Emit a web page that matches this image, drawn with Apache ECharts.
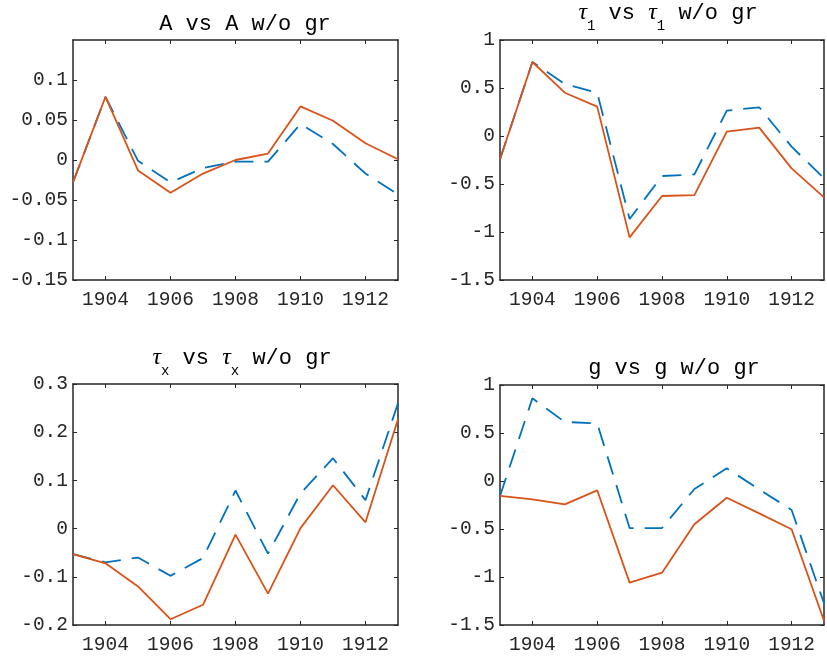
<!DOCTYPE html>
<html><head><meta charset="utf-8">
<script src="https://cdn.jsdelivr.net/npm/echarts@6/dist/echarts.min.js"></script>
<style>html,body{margin:0;padding:0;background:#fff}#c{width:827px;height:661px}</style>
</head><body><div id="c"></div>
<script>
// ---- data ----
const years = [1903,1904,1905,1906,1907,1908,1909,1910,1911,1912,1913];
const xTicks = [1904,1906,1908,1910,1912];

const A      = [-0.028,0.079,-0.001,-0.028,-0.010,-0.002,-0.002,0.045,0.020,-0.017,-0.043];
const A_wo   = [-0.028,0.079,-0.013,-0.041,-0.017,0.000,0.008,0.067,0.049,0.021,0.001];
const T1     = [-0.243,0.771,0.542,0.451,-0.865,-0.417,-0.400,0.264,0.299,-0.111,-0.441];
const T1_wo  = [-0.243,0.771,0.451,0.306,-1.056,-0.625,-0.615,0.045,0.087,-0.337,-0.639];
const TX     = [-0.053,-0.070,-0.060,-0.098,-0.061,0.079,-0.052,0.073,0.146,0.059,0.260];
const TX_wo  = [-0.053,-0.072,-0.120,-0.188,-0.158,-0.0125,-0.135,0.001,0.090,0.013,0.227];
const G      = [-0.156,0.861,0.615,0.601,-0.490,-0.490,-0.083,0.132,-0.087,-0.302,-1.274];
const G_wo   = [-0.156,-0.191,-0.243,-0.097,-1.059,-0.955,-0.451,-0.174,-0.337,-0.503,-1.455];

const yTicksA  = [-0.15,-0.1,-0.05,0,0.05,0.1];
const yTicksT1 = [-1.5,-1,-0.5,0,0.5,1];
const yTicksTX = [-0.2,-0.1,0,0.1,0.2,0.3];
const yTicksG  = [-1.5,-1,-0.5,0,0.5,1];
const yRanges = [[-0.15,0.15],[-1.5,1],[-0.2,0.3],[-1.5,1]];

// ---- layout / style ----
const INK = '#262626';
const BLUE = '#0072BD', ORANGE = '#D95319';
const MONO = '"Courier New","Liberation Mono","DejaVu Sans Mono",monospace';
const grids = [
  {left:73, top:40, width:325, height:240},
  {left:500, top:40, width:324, height:240},
  {left:73, top:384, width:325, height:241},
  {left:500, top:385, width:324, height:240}
];
const panels = [
  {blue:A, orange:A_wo, yt:yTicksA},
  {blue:T1, orange:T1_wo, yt:yTicksT1},
  {blue:TX, orange:TX_wo, yt:yTicksTX},
  {blue:G, orange:G_wo, yt:yTicksG}
];

const xAxis = [], yAxis = [], series = [];
panels.forEach((p, i) => {
  const axLine = {show:true, onZero:false, lineStyle:{color:INK, width:1.5}};
  const tick = (vals)=>({show:true, inside:true, length:4, customValues:vals, lineStyle:{color:INK, width:1}});
  xAxis.push({type:'value', gridIndex:i, position:'bottom', min:1903, max:1913,
    axisLine:axLine, axisTick:tick(xTicks), splitLine:{show:false},
    axisLabel:{customValues:xTicks, formatter:v=>String(v), color:INK, fontFamily:MONO, fontSize:19.5, margin:10}});
  xAxis.push({type:'value', gridIndex:i, position:'top', min:1903, max:1913,
    axisLine:axLine, axisTick:tick(xTicks), axisLabel:{show:false}, splitLine:{show:false}});
  yAxis.push({type:'value', gridIndex:i, position:'left', min:yRanges[i][0], max:yRanges[i][1],
    axisLine:axLine, axisTick:tick(p.yt), splitLine:{show:false},
    axisLabel:{customValues:p.yt, color:INK, fontFamily:MONO, fontSize:19.5, margin:5}});
  yAxis.push({type:'value', gridIndex:i, position:'right', min:yRanges[i][0], max:yRanges[i][1],
    axisLine:axLine, axisTick:tick(p.yt), axisLabel:{show:false}, splitLine:{show:false}});
  series.push({type:'line', xAxisIndex:2*i, yAxisIndex:2*i, showSymbol:false, animation:false,
    data: years.map((y,k)=>[y,p.blue[k]]), lineStyle:{color:BLUE, width:1.8, type:[19,11]}, itemStyle:{color:BLUE}});
  series.push({type:'line', xAxisIndex:2*i, yAxisIndex:2*i, showSymbol:false, animation:false,
    data: years.map((y,k)=>[y,p.orange[k]]), lineStyle:{color:ORANGE, width:1.8}, itemStyle:{color:ORANGE}});
});

const rich = {
  n:{fontFamily:MONO, fontSize:22, color:INK},
  t:{fontFamily:'"Liberation Serif","DejaVu Serif",serif', fontStyle:'italic', fontSize:24, color:INK},
  s:{fontFamily:MONO, fontSize:14, color:INK, padding:[26,0,0,0]}
};
function ttl(text, x, y){
  return {type:'text', x:x, y:y, style:{text:text, align:'center', verticalAlign:'middle', rich:rich}};
}
const graphic = [
  ttl('{n|A vs A w/o gr}', 245, 24),
  ttl('{t|τ}{s|1}{n| vs }{t|τ}{s|1}{n| w/o gr}', 668, 13),
  ttl('{t|τ}{s|x}{n| vs }{t|τ}{s|x}{n| w/o gr}', 242, 358),
  ttl('{n|g vs g w/o gr}', 674, 368)
];

const chart = echarts.init(document.getElementById('c'));
chart.setOption({animation:false, backgroundColor:'#fff', grid:grids, xAxis, yAxis, series, graphic});
</script></body></html>
